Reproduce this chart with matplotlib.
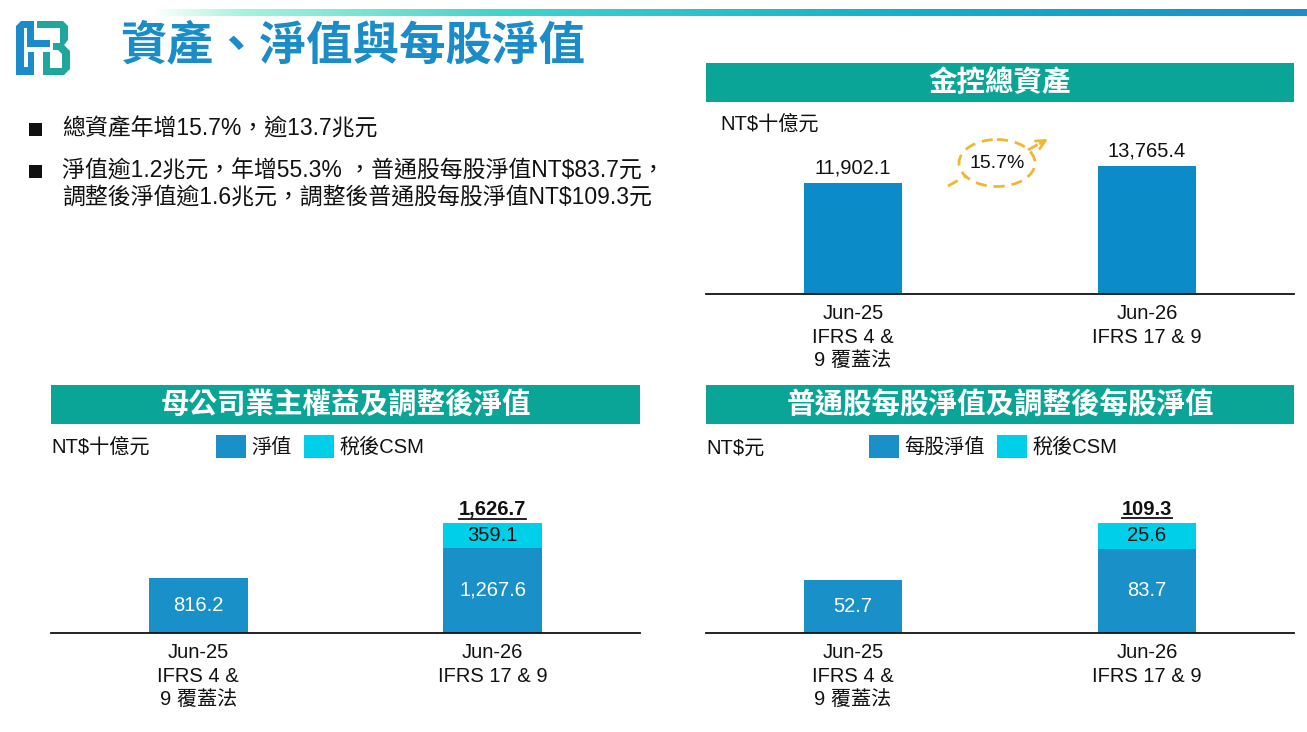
import numpy as np
import matplotlib
matplotlib.use("Agg")
import matplotlib.pyplot as plt
from matplotlib.patches import Rectangle, Polygon, Ellipse
from matplotlib.colors import LinearSegmentedColormap
from matplotlib.lines import Line2D

plt.rcParams['font.family'] = ['Liberation Sans', 'Noto Sans CJK TC', 'DejaVu Sans']

# ---- data ----
periods = ["Jun-25\nIFRS 4 &\n9 覆蓋法", "Jun-26\nIFRS 17 & 9"]
total_assets = [11902.1, 13765.4]          # NT$ bn
net_worth = [816.2, 1267.6]                # NT$ bn
net_worth_csm = [0.0, 359.1]               # NT$ bn, after-tax CSM
bvps = [52.7, 83.7]                        # NT$
bvps_csm = [0.0, 25.6]                     # NT$

W, H = 1307, 732
BLUE_TOP = '#0b8bc7'
BLUE = '#1990c7'
CYAN = '#00cfe9'
TEAL = '#0aa597'
TITLE_BLUE = '#1a8cc8'
GOLD = '#f2b630'

fig = plt.figure(figsize=(W / 100, H / 100), dpi=100)
fig.patch.set_facecolor('white')

# overlay in pixel coords for the slide decoration
bg = fig.add_axes([0, 0, 1, 1])
bg.set_xlim(0, W)
bg.set_ylim(H, 0)
bg.axis('off')

# gradient rule at the top
cmap = LinearSegmentedColormap.from_list(
    'rule', [(0, 'white'), (0.08, '#a6f2dc'), (0.3, '#44d2cc'),
             (0.65, '#14b0c8'), (1, '#1a8ecb')])
bg.imshow(np.linspace(0, 1, 256)[None, :], cmap=cmap, aspect='auto',
          extent=(150, W, 16, 9), zorder=1)

# logo
bg.add_patch(Polygon([(16, 26), (21, 21), (34, 21), (34, 40), (50, 40), (50, 47),
                      (27, 47), (27, 28), (24, 28), (24, 67), (28, 67), (28, 52),
                      (34, 52), (34, 75), (16, 75)], closed=True, color='#1a8ccb', lw=0))
bg.add_patch(Polygon([(37, 21), (63, 21), (68, 26), (68, 40), (64, 45), (70, 51),
                      (70, 69), (64, 75), (43, 75), (43, 52), (50, 52), (50, 68),
                      (62, 68), (62, 54), (58, 50), (53, 50), (53, 43), (60, 43),
                      (60, 28), (37, 28)], closed=True, color='#1fa79d', lw=0))

bg.text(120, 47, "資產、淨值與每股淨值", fontsize=33.5, fontweight='bold',
        color=TITLE_BLUE, ha='left', va='center')

# bullets
bullets = [(129, "總資產年增15.7%，逾13.7兆元", True),
           (171, "淨值逾1.2兆元，年增55.3% ，普通股每股淨值NT\\$83.7元，", True),
           (197, "調整後淨值逾1.6兆元，調整後普通股每股淨值NT\\$109.3元", False)]
for y, txt, mark in bullets:
    if mark:
        bg.add_patch(Rectangle((29, y - 6.5), 13, 13, color='#111111', lw=0))
    bg.text(62, y, txt, fontsize=16.5, color='#111111', ha='left', va='center')

# panel headers
headers = [((706, 63, 1294, 102), "金控總資產"),
           ((51, 385, 640, 424), "母公司業主權益及調整後淨值"),
           ((706, 385, 1294, 424), "普通股每股淨值及調整後每股淨值")]
for (x0, y0, x1, y1), txt in headers:
    bg.add_patch(Rectangle((x0, y0), x1 - x0, y1 - y0, color=TEAL, lw=0))
    bg.text((x0 + x1) / 2, (y0 + y1) / 2 + 1, txt, fontsize=20.5, fontweight='bold',
            color='white', ha='center', va='center')

# unit labels
bg.text(720, 124, "NT\\$十億元", fontsize=14.5, color='#111111', va='center')
bg.text(51, 447, "NT\\$十億元", fontsize=14.5, color='#111111', va='center')
bg.text(706, 448, "NT\\$元", fontsize=14.5, color='#111111', va='center')

# legends
for (bx, lab, col) in [(216, "淨值", BLUE), (304, "稅後CSM", CYAN),
                       (869, "每股淨值", BLUE), (997, "稅後CSM", CYAN)]:
    bg.add_patch(Rectangle((bx, 435), 30, 23, color=col, lw=0))
    bg.text(bx + 35, 447, lab, fontsize=14.5, color='#111111', va='center')

# growth annotation
growth = (total_assets[1] / total_assets[0] - 1) * 100
dash = (0, (4, 2.5))
bg.add_patch(Ellipse((997, 163), 76, 47, fill=False, ec=GOLD, lw=2, ls=dash))
bg.plot([948, 966], [186, 176], color=GOLD, lw=2, ls=dash)
bg.plot([1028, 1042], [150, 142], color=GOLD, lw=2, ls=dash)
bg.annotate("", xy=(1048, 139), xytext=(1040, 143.5),
            arrowprops=dict(arrowstyle='->', color=GOLD, lw=2,
                            shrinkA=0, shrinkB=0, mutation_scale=16))
bg.text(997, 164, f"{growth:.1f}%", fontsize=14, color='#111111', ha='center', va='center')


def make_axes(x0, x1, ytop, ybot):
    ax = fig.add_axes([x0 / W, 1 - ybot / H, (x1 - x0) / W, (ybot - ytop) / H])
    ax.set_facecolor('none')
    for s in ['top', 'right', 'left']:
        ax.spines[s].set_visible(False)
    ax.spines['bottom'].set_linewidth(1.3)
    ax.spines['bottom'].set_color('#111111')
    ax.set_yticks([])
    x = np.arange(len(periods))
    ax.set_xticks(x, periods)
    ax.tick_params(axis='x', length=0, pad=7, labelsize=14.5, labelcolor='#111111')
    for t in ax.get_xticklabels():
        t.set_linespacing(1.32)
    ax.set_xlim(-0.5, 1.5)
    return ax, x


# top: total assets
ax1, x = make_axes(706, 1294, 130, 294)
ax1.set_ylim(0, 17600)
b = ax1.bar(x, total_assets, width=0.335, color=BLUE_TOP)
ax1.bar_label(b, labels=[f"{v:,.1f}" for v in total_assets], padding=4,
              fontsize=14.5, color='#111111')

totals = []


def stacked(ax, base, extra, ymax, fmt):
    ax.set_ylim(0, ymax)
    b1 = ax.bar(x, base, width=0.335, color=BLUE)
    b2 = ax.bar(x, extra, width=0.335, bottom=base, color=CYAN)
    ax.bar_label(b1, labels=[fmt.format(v) for v in base], label_type='center',
                 fontsize=14.5, color='white')
    ax.bar_label(b2, labels=[fmt.format(v) if v > 0 else "" for v in extra],
                 label_type='center', fontsize=14.5, color='#111111')
    for i, (a, c) in enumerate(zip(base, extra)):
        if c > 0:
            t = ax.annotate(fmt.format(a + c), xy=(x[i], a + c), xytext=(0, 3),
                            textcoords='offset points', ha='center', va='bottom',
                            fontsize=14.5, fontweight='bold', color='#111111')
            totals.append(t)


ax2, x = make_axes(51, 640, 470, 633)
stacked(ax2, net_worth, net_worth_csm, 2419, "{:,.1f}")
ax3, x = make_axes(706, 1294, 470, 633)
stacked(ax3, bvps, bvps_csm, 162, "{:,.1f}")

# underline the bold totals
fig.canvas.draw()
r = fig.canvas.get_renderer()
for t in totals:
    bb = t.get_window_extent(r)
    yl = bb.y0 + 0.5
    fig.add_artist(Line2D([bb.x0 / W, bb.x1 / W], [yl / H, yl / H], color='#111111',
                          lw=1.3, transform=fig.transFigure))

fig.savefig("out.png", dpi=100, facecolor='white')
